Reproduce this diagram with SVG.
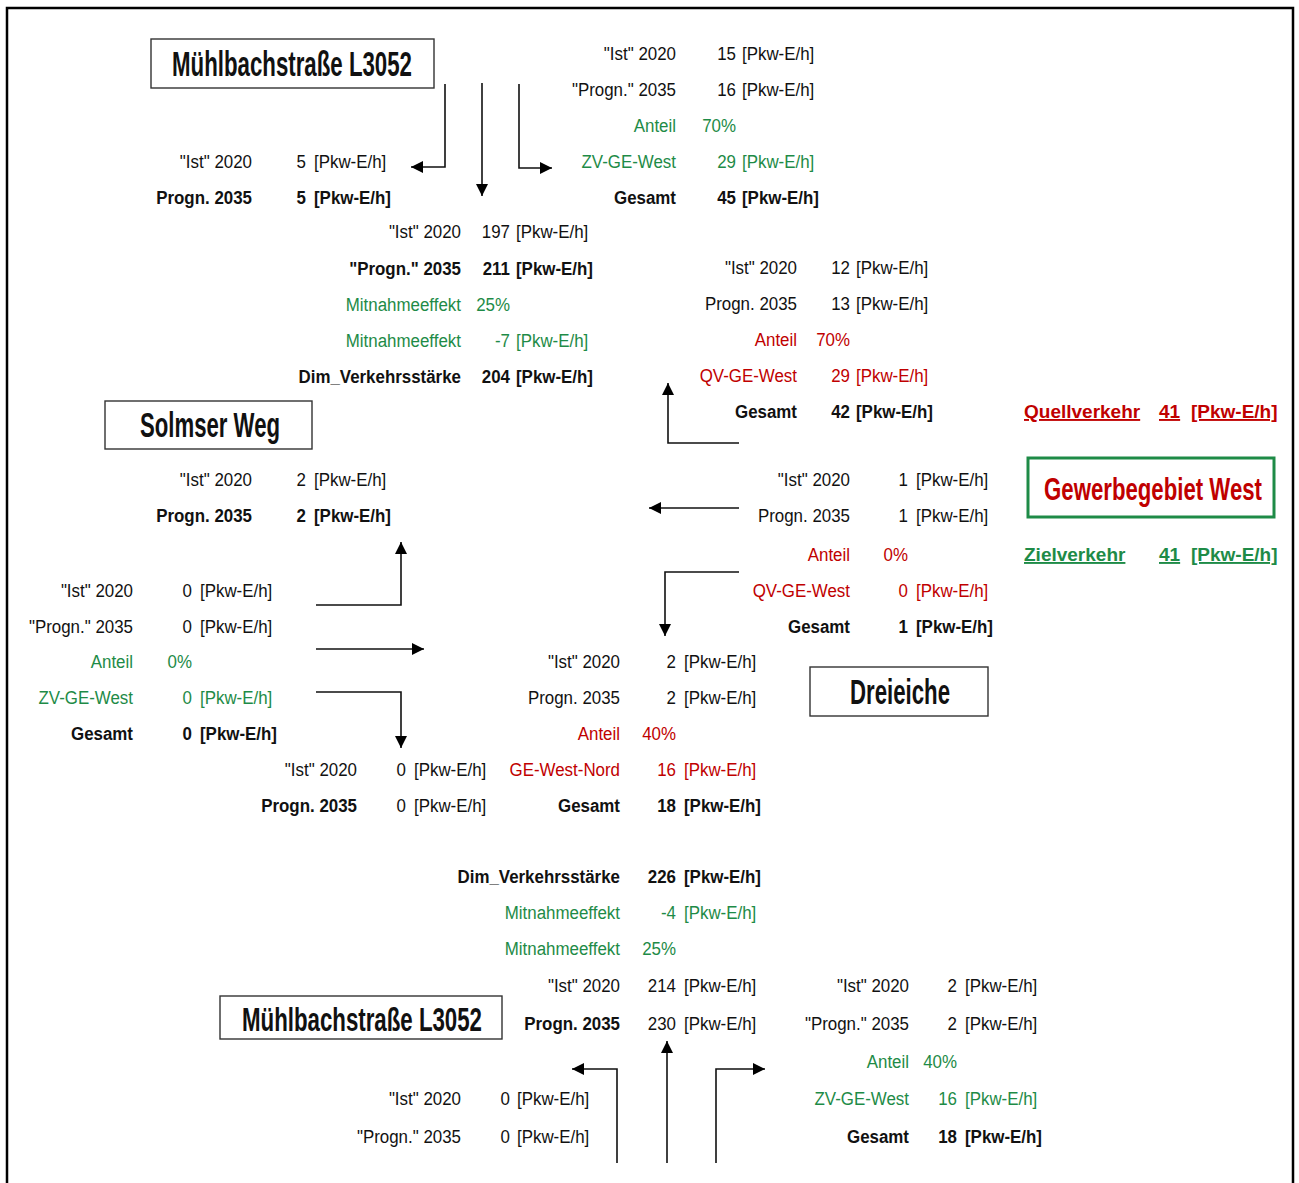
<svg xmlns="http://www.w3.org/2000/svg" width="1299" height="1183" viewBox="0 0 1299 1183">
<style>
text{font-family:"Liberation Sans",Arial,sans-serif;font-size:19px;fill:#111}
.t{transform-box:fill-box;transform:scaleX(.89)}
.e{text-anchor:end;transform-origin:100% 0}
.s{text-anchor:start;transform-origin:0 0}
.b{font-weight:bold}
.g{fill:#1e8b47}
.r{fill:#c00000}
.u{text-decoration:underline;font-weight:bold}
.ttl{font-size:36px;font-weight:bold;text-anchor:middle}
.box{fill:#fff;stroke:#333;stroke-width:1.4}
.con path{fill:none;stroke:#111;stroke-width:1.6}
</style>
<defs>
<marker id="ah" viewBox="0 0 12 12" refX="12" refY="6" markerWidth="12" markerHeight="12" markerUnits="userSpaceOnUse" orient="auto"><path d="M0,0 L12,6 L0,12 z" fill="#000"/></marker>
</defs>
<rect width="1299" height="1183" fill="#fff"/>
<path d="M7,1183 V8 H1293 V1183" fill="none" stroke="#000" stroke-width="2.5"/>

<g id="node-muehlbach-top">
<rect class="box" x="151" y="39" width="283" height="49"/>
<text class="ttl" transform="translate(292,76) scale(0.6,1)" x="0" y="0" textLength="400" lengthAdjust="spacingAndGlyphs">Mühlbachstraße L3052</text>
</g>
<g id="node-solmser">
<rect class="box" x="105" y="401" width="207" height="48"/>
<text class="ttl" transform="translate(210,437) scale(0.6,1)" x="0" y="0" textLength="233.3" lengthAdjust="spacingAndGlyphs">Solmser Weg</text>
</g>
<g id="node-dreieiche">
<rect class="box" x="810" y="667" width="178" height="49"/>
<text class="ttl" transform="translate(900,704) scale(0.6,1)" x="0" y="0" textLength="166.7" lengthAdjust="spacingAndGlyphs">Dreieiche</text>
</g>
<g id="node-muehlbach-bottom">
<rect class="box" x="220" y="996" width="282" height="43"/>
<text class="ttl" transform="translate(362,1031) scale(0.6,1)" x="0" y="0" style="font-size:34px" textLength="400" lengthAdjust="spacingAndGlyphs">Mühlbachstraße L3052</text>
</g>
<g id="node-gewerbegebiet">
<rect x="1028" y="458" width="246" height="59" fill="#fff" stroke="#1e8b47" stroke-width="3"/>
<text class="ttl r" transform="translate(1153,500) scale(0.6,1)" x="0" y="0" style="font-size:32px" textLength="363.3" lengthAdjust="spacingAndGlyphs">Gewerbegebiet West</text>
<text class="u r" x="1024" y="418">Quellverkehr</text>
<text class="u r" x="1159" y="418">41</text>
<text class="u r" x="1191" y="418">[Pkw-E/h]</text>
<text class="u g" x="1024" y="561">Zielverkehr</text>
<text class="u g" x="1159" y="561">41</text>
<text class="u g" x="1191" y="561">[Pkw-E/h]</text>
</g>

<g id="data-top-right">
<text class="t e" x="676" y="60">"Ist" 2020</text><text class="t e" x="736" y="60">15</text><text class="t s" x="742" y="60">[Pkw-E/h]</text>
<text class="t e" x="676" y="96">"Progn." 2035</text><text class="t e" x="736" y="96">16</text><text class="t s" x="742" y="96">[Pkw-E/h]</text>
<text class="t e g" x="676" y="132">Anteil</text><text class="t e g" x="736" y="132">70%</text>
<text class="t e g" x="676" y="168">ZV-GE-West</text><text class="t e g" x="736" y="168">29</text><text class="t s g" x="742" y="168">[Pkw-E/h]</text>
<text class="t e b" x="676" y="204">Gesamt</text><text class="t e b" x="736" y="204">45</text><text class="t s b" x="742" y="204">[Pkw-E/h]</text>
</g>

<g id="data-top-left">
<text class="t e" x="252" y="168">"Ist" 2020</text><text class="t e" x="306" y="168">5</text><text class="t s" x="314" y="168">[Pkw-E/h]</text>
<text class="t e b" x="252" y="204">Progn. 2035</text><text class="t e b" x="306" y="204">5</text><text class="t s b" x="314" y="204">[Pkw-E/h]</text>
</g>

<g id="data-muehlbach-north">
<text class="t e" x="461" y="238">"Ist" 2020</text><text class="t e" x="510" y="238">197</text><text class="t s" x="516" y="238">[Pkw-E/h]</text>
<text class="t e b" x="461" y="275">"Progn." 2035</text><text class="t e b" x="510" y="275">211</text><text class="t s b" x="516" y="275">[Pkw-E/h]</text>
<text class="t e g" x="461" y="311">Mitnahmeeffekt</text><text class="t e g" x="510" y="311">25%</text>
<text class="t e g" x="461" y="347">Mitnahmeeffekt</text><text class="t e g" x="510" y="347">-7</text><text class="t s g" x="516" y="347">[Pkw-E/h]</text>
<text class="t e b" x="461" y="383">Dim_Verkehrsstärke</text><text class="t e b" x="510" y="383">204</text><text class="t s b" x="516" y="383">[Pkw-E/h]</text>
</g>

<g id="data-right-upper">
<text class="t e" x="797" y="274">"Ist" 2020</text><text class="t e" x="850" y="274">12</text><text class="t s" x="856" y="274">[Pkw-E/h]</text>
<text class="t e" x="797" y="310">Progn. 2035</text><text class="t e" x="850" y="310">13</text><text class="t s" x="856" y="310">[Pkw-E/h]</text>
<text class="t e r" x="797" y="346">Anteil</text><text class="t e r" x="850" y="346">70%</text>
<text class="t e r" x="797" y="382">QV-GE-West</text><text class="t e r" x="850" y="382">29</text><text class="t s r" x="856" y="382">[Pkw-E/h]</text>
<text class="t e b" x="797" y="418">Gesamt</text><text class="t e b" x="850" y="418">42</text><text class="t s b" x="856" y="418">[Pkw-E/h]</text>
</g>

<g id="data-solmser">
<text class="t e" x="252" y="486">"Ist" 2020</text><text class="t e" x="306" y="486">2</text><text class="t s" x="314" y="486">[Pkw-E/h]</text>
<text class="t e b" x="252" y="522">Progn. 2035</text><text class="t e b" x="306" y="522">2</text><text class="t s b" x="314" y="522">[Pkw-E/h]</text>
</g>

<g id="data-right-lower">
<text class="t e" x="850" y="486">"Ist" 2020</text><text class="t e" x="908" y="486">1</text><text class="t s" x="916" y="486">[Pkw-E/h]</text>
<text class="t e" x="850" y="522">Progn. 2035</text><text class="t e" x="908" y="522">1</text><text class="t s" x="916" y="522">[Pkw-E/h]</text>
<text class="t e r" x="850" y="561">Anteil</text><text class="t e r" x="908" y="561">0%</text>
<text class="t e r" x="850" y="597">QV-GE-West</text><text class="t e r" x="908" y="597">0</text><text class="t s r" x="916" y="597">[Pkw-E/h]</text>
<text class="t e b" x="850" y="633">Gesamt</text><text class="t e b" x="908" y="633">1</text><text class="t s b" x="916" y="633">[Pkw-E/h]</text>
</g>

<g id="data-left">
<text class="t e" x="133" y="597">"Ist" 2020</text><text class="t e" x="192" y="597">0</text><text class="t s" x="200" y="597">[Pkw-E/h]</text>
<text class="t e" x="133" y="633">"Progn." 2035</text><text class="t e" x="192" y="633">0</text><text class="t s" x="200" y="633">[Pkw-E/h]</text>
<text class="t e g" x="133" y="668">Anteil</text><text class="t e g" x="192" y="668">0%</text>
<text class="t e g" x="133" y="704">ZV-GE-West</text><text class="t e g" x="192" y="704">0</text><text class="t s g" x="200" y="704">[Pkw-E/h]</text>
<text class="t e b" x="133" y="740">Gesamt</text><text class="t e b" x="192" y="740">0</text><text class="t s b" x="200" y="740">[Pkw-E/h]</text>
</g>

<g id="data-middle-lower">
<text class="t e" x="620" y="668">"Ist" 2020</text><text class="t e" x="676" y="668">2</text><text class="t s" x="684" y="668">[Pkw-E/h]</text>
<text class="t e" x="620" y="704">Progn. 2035</text><text class="t e" x="676" y="704">2</text><text class="t s" x="684" y="704">[Pkw-E/h]</text>
<text class="t e r" x="620" y="740">Anteil</text><text class="t e r" x="676" y="740">40%</text>
<text class="t e r" x="620" y="776">GE-West-Nord</text><text class="t e r" x="676" y="776">16</text><text class="t s r" x="684" y="776">[Pkw-E/h]</text>
<text class="t e b" x="620" y="812">Gesamt</text><text class="t e b" x="676" y="812">18</text><text class="t s b" x="684" y="812">[Pkw-E/h]</text>
</g>

<g id="data-solmser-south">
<text class="t e" x="357" y="776">"Ist" 2020</text><text class="t e" x="406" y="776">0</text><text class="t s" x="414" y="776">[Pkw-E/h]</text>
<text class="t e b" x="357" y="812">Progn. 2035</text><text class="t e" x="406" y="812">0</text><text class="t s" x="414" y="812">[Pkw-E/h]</text>
</g>

<g id="data-muehlbach-south">
<text class="t e b" x="620" y="883">Dim_Verkehrsstärke</text><text class="t e b" x="676" y="883">226</text><text class="t s b" x="684" y="883">[Pkw-E/h]</text>
<text class="t e g" x="620" y="919">Mitnahmeeffekt</text><text class="t e g" x="676" y="919">-4</text><text class="t s g" x="684" y="919">[Pkw-E/h]</text>
<text class="t e g" x="620" y="955">Mitnahmeeffekt</text><text class="t e g" x="676" y="955">25%</text>
<text class="t e" x="620" y="992">"Ist" 2020</text><text class="t e" x="676" y="992">214</text><text class="t s" x="684" y="992">[Pkw-E/h]</text>
<text class="t e b" x="620" y="1030">Progn. 2035</text><text class="t e" x="676" y="1030">230</text><text class="t s" x="684" y="1030">[Pkw-E/h]</text>
</g>

<g id="data-bottom-right">
<text class="t e" x="909" y="992">"Ist" 2020</text><text class="t e" x="957" y="992">2</text><text class="t s" x="965" y="992">[Pkw-E/h]</text>
<text class="t e" x="909" y="1030">"Progn." 2035</text><text class="t e" x="957" y="1030">2</text><text class="t s" x="965" y="1030">[Pkw-E/h]</text>
<text class="t e g" x="909" y="1068">Anteil</text><text class="t e g" x="957" y="1068">40%</text>
<text class="t e g" x="909" y="1105">ZV-GE-West</text><text class="t e g" x="957" y="1105">16</text><text class="t s g" x="965" y="1105">[Pkw-E/h]</text>
<text class="t e b" x="909" y="1143">Gesamt</text><text class="t e b" x="957" y="1143">18</text><text class="t s b" x="965" y="1143">[Pkw-E/h]</text>
</g>

<g id="data-bottom-left">
<text class="t e" x="461" y="1105">"Ist" 2020</text><text class="t e" x="510" y="1105">0</text><text class="t s" x="517" y="1105">[Pkw-E/h]</text>
<text class="t e" x="461" y="1143">"Progn." 2035</text><text class="t e" x="510" y="1143">0</text><text class="t s" x="517" y="1143">[Pkw-E/h]</text>
</g>

<g id="connectors" class="con">
<path d="M445,84 V167 H411" marker-end="url(#ah)"/>
<path d="M482,83 V196" marker-end="url(#ah)"/>
<path d="M519,84 V168 H552" marker-end="url(#ah)"/>
<path d="M739,443 H668 V383" marker-end="url(#ah)"/>
<path d="M739,508 H649" marker-end="url(#ah)"/>
<path d="M739,572 H665 V636" marker-end="url(#ah)"/>
<path d="M316,605 H401 V542" marker-end="url(#ah)"/>
<path d="M316,649 H424" marker-end="url(#ah)"/>
<path d="M316,692 H401 V748" marker-end="url(#ah)"/>
<path d="M617,1163 V1069 H572" marker-end="url(#ah)"/>
<path d="M667,1163 V1041" marker-end="url(#ah)"/>
<path d="M716,1163 V1069 H765" marker-end="url(#ah)"/>
</g>
</svg>
